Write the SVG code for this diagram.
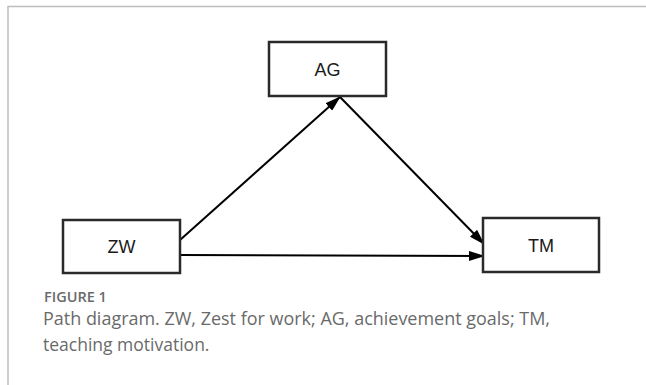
<svg xmlns="http://www.w3.org/2000/svg" width="646" height="385" viewBox="0 0 646 385">
<style>
.box{fill:#fff;stroke:#2a2a2a;stroke-width:2.5}
.lbl{font-family:"Liberation Sans",Arial,sans-serif;font-size:18px;fill:#1a1a1a;text-anchor:middle}
.edge{stroke:#000;stroke-width:2;fill:none;marker-end:url(#ah)}
.cap{font-family:"Open Sans","Liberation Sans",sans-serif;fill:#6a6a6a}
</style>
<defs>
<marker id="ah" markerWidth="16" markerHeight="10" refX="15" refY="5" orient="auto" markerUnits="userSpaceOnUse">
<path d="M0,0 L16,5 L0,10 Z" fill="#000"/>
</marker>
</defs>
<rect width="646" height="385" fill="#fff"/>
<path d="M8,385 V6.5 H646" fill="none" stroke="#bdbdbd" stroke-width="1.5"/>
<g id="connectors">
<line class="edge" x1="180" y1="240" x2="340" y2="97"/>
<line class="edge" x1="340" y1="97" x2="484" y2="244"/>
<line class="edge" x1="180" y1="255" x2="484" y2="256"/>
</g>
<g id="AG">
<rect class="box" x="269" y="42" width="117" height="54"/>
<text class="lbl" x="327.5" y="75.5">AG</text>
</g>
<g id="ZW">
<rect class="box" x="63" y="220" width="117" height="53"/>
<text class="lbl" x="121.5" y="253">ZW</text>
</g>
<g id="TM">
<rect class="box" x="483" y="218" width="116" height="54"/>
<text class="lbl" x="541" y="251.5">TM</text>
</g>
<text class="cap" x="44" y="302" font-size="14.5" font-weight="600" fill="#777">FIGURE 1</text>
<text class="cap" x="43" y="325" font-size="18" textLength="507" lengthAdjust="spacingAndGlyphs">Path diagram. ZW, Zest for work; AG, achievement goals; TM,</text>
<text class="cap" x="43" y="351" font-size="17.5">teaching motivation.</text>
</svg>
